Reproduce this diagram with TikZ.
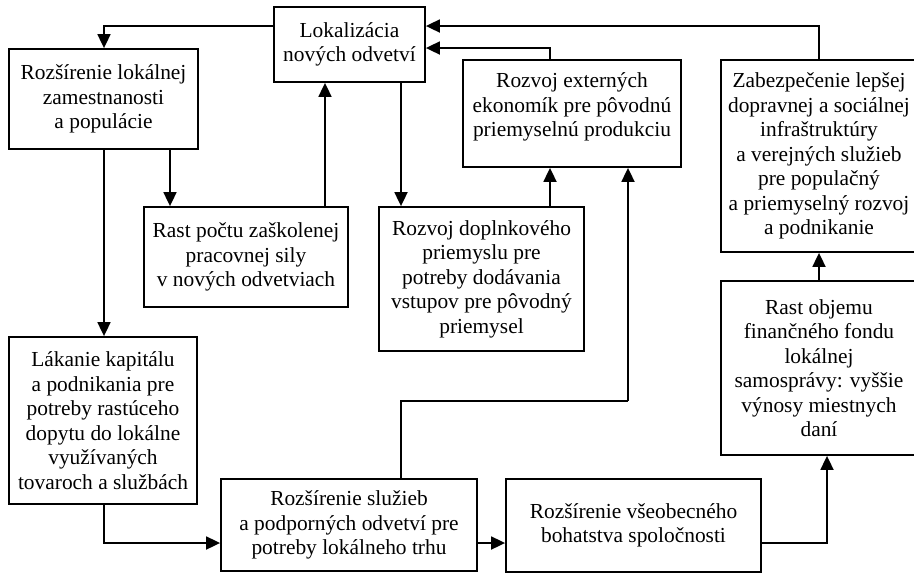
\documentclass[tikz,border=0pt]{standalone}
\usepackage{fontspec}
\setmainfont{Liberation Serif}
\usetikzlibrary{arrows.meta}
\begin{document}
\begin{tikzpicture}[x=1pt,y=-1pt,
  box/.style={draw, line width=1.8pt, fill=white, inner sep=0pt, align=center,
    font=\fontsize{21.4}{24.5}\selectfont},
  txt/.style={inner sep=0pt, align=center, font=\fontsize{21.4}{24.5}\selectfont},
  arr/.style={line width=1.8pt, -{Triangle[length=14pt,width=13pt]}},
  link/.style={line width=1.8pt}]
\useasboundingbox (0,0) rectangle (914,574);
\fill[white] (0,0) rectangle (914,574);

% boxes
\node[box, minimum width=151pt, minimum height=75pt] (lok) at (349.5,44.5)
  {Lokalizácia\\nových odvetví};
\node[box, minimum width=189pt, minimum height=100pt] (roz) at (103.5,99)
  {Rozšírenie lokálnej\\zamestnanosti\\a populácie};
\node[box, minimum width=204pt, minimum height=100pt] (rast) at (246,257)
  {Rast počtu zaškolenej\\pracovnej sily\\v nových odvetviach};
\node[box, minimum width=205pt, minimum height=144pt] (dop) at (481.5,279)
  {Rozvoj doplnkového\\priemyslu pre\\potreby dodávania\\vstupov pre pôvodný\\priemysel};
\node[box, minimum width=218pt, minimum height=107pt] (ext) at (572,113.5) {};
\node[txt] (exttext) at ([yshift=6.5pt]ext.center)
  {Rozvoj externých\\ekonomík pre pôvodnú\\priemyselnú produkciu};
\node[box, minimum width=196pt, minimum height=192pt] (zab) at (819,156)
  {Zabezpečenie lepšej\\dopravnej a sociálnej\\infraštruktúry\\a verejných služieb\\pre populačný\\a priemyselný rozvoj\\a podnikanie};
\node[box, minimum width=196pt, minimum height=174pt] (robj) at (819,368)
  {Rast objemu\\finančného fondu\\lokálnej\\samosprávy: vyššie\\výnosy miestnych\\daní};
\node[box, minimum width=188pt, minimum height=167pt] (lak) at (103,420.5)
  {Lákanie kapitálu\\a podnikania pre\\potreby rastúceho\\dopytu do lokálne\\využívaných\\tovaroch a službách};
\node[box, minimum width=256pt, minimum height=92pt] (slu) at (349,525)
  {Rozšírenie služieb\\a podporných odvetví pre\\potreby lokálneho trhu};
\node[box, minimum width=255pt, minimum height=93pt] (boh) at (633.5,525.5)
  {Rozšírenie všeobecného\\bohatstva spoločnosti};

% routing guides
\coordinate (y26) at (0,26);
\coordinate (y48) at (0,48);
\coordinate (y543) at (0,543);
\coordinate (x104) at (104,0);
\coordinate (x170) at (170,0);
\coordinate (x325) at (325,0);
\coordinate (x401) at (401,0);
\coordinate (x550) at (550,0);
\coordinate (x827) at (827,0);
\coordinate (k1) at (628,401);

% connectors
\draw[arr] (lok.west |- y26) -| (roz.north -| x104);
\draw[arr] (roz.south -| x104) -- (lak.north -| x104);
\draw[arr] (roz.south -| x170) -- (rast.north -| x170);
\draw[arr] (rast.north -| x325) -- (lok.south -| x325);
\draw[arr] (lok.south -| x401) -- (dop.north -| x401);
\draw[arr] (dop.north -| x550) -- (ext.south -| x550);
\draw[arr] (ext.north -| x550) |- (lok.east |- y48);
\draw[arr] (zab.north) |- (lok.east |- y26);
\draw[arr] (lak.south -| x104) |- (slu.west |- y543);
\draw[arr] (slu.east |- y543) -- (boh.west |- y543);
\draw[link] (slu.north -| x401) |- (k1);
\draw[arr] (k1) -- (ext.south -| k1);
\draw[arr] (boh.east |- y543) -| (robj.south -| x827);
\draw[arr] (robj.north) -- (zab.south);
\end{tikzpicture}
\end{document}
